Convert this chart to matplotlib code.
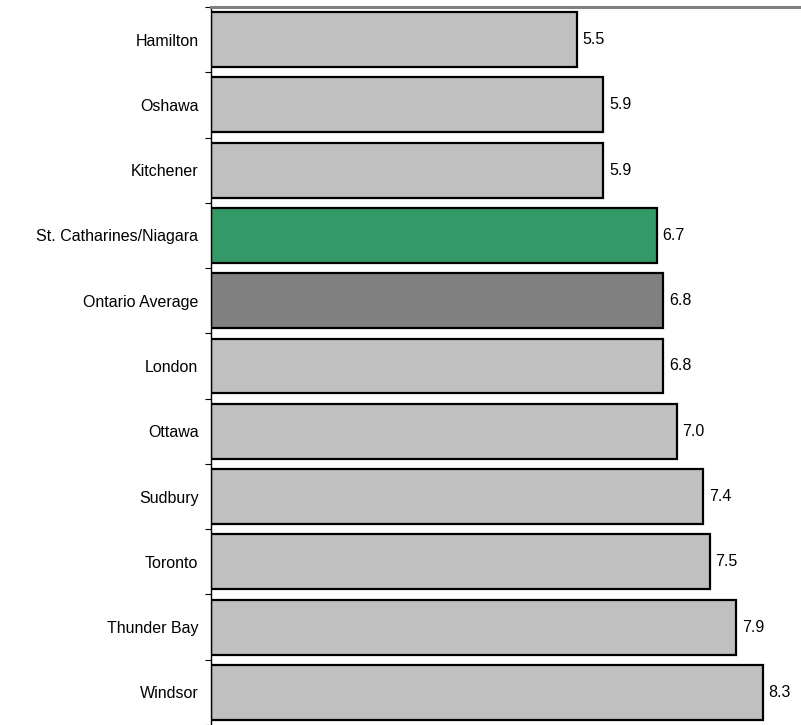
import matplotlib
matplotlib.use("Agg")
import matplotlib.pyplot as plt
import numpy as np

cities = ["Hamilton", "Oshawa", "Kitchener", "St. Catharines/Niagara", "Ontario Average",
          "London", "Ottawa", "Sudbury", "Toronto", "Thunder Bay", "Windsor"]
values = [5.5, 5.9, 5.9, 6.7, 6.8, 6.8, 7.0, 7.4, 7.5, 7.9, 8.3]
colors = ["#C0C0C0", "#C0C0C0", "#C0C0C0", "#339966", "#808080",
          "#C0C0C0", "#C0C0C0", "#C0C0C0", "#C0C0C0", "#C0C0C0", "#C0C0C0"]


def main():
    plt.rcParams['font.family'] = ['Liberation Sans', 'DejaVu Sans']

    fig = plt.figure(figsize=(8.01, 7.25), dpi=100)
    ax = fig.add_axes([211 / 801, 0.0, 1 - 211 / 801, 1 - 7 / 725])

    y = np.arange(len(cities))
    ax.barh(y, values, height=0.84, color=colors, edgecolor="black", linewidth=1.6)

    for yi, v in zip(y, values):
        ax.annotate(f"{v:.1f}", (v, yi), xytext=(4, 0), textcoords="offset points",
                    va="center", ha="left", fontsize=11.5)

    ax.set_xlim(0, 590 / 66.5)
    ax.set_ylim(len(cities) - 0.5, -0.5)

    ax.set_yticks(y)
    ax.set_yticklabels(cities, fontsize=11.5)
    ax.set_yticks(np.arange(len(cities) + 1) - 0.5, minor=True)
    ax.tick_params(axis="y", which="major", length=0, pad=9)
    ax.tick_params(axis="y", which="minor", length=4, width=0.8)
    ax.set_xticks([])

    ax.spines["right"].set_visible(False)
    ax.spines["bottom"].set_visible(False)
    ax.spines["left"].set_linewidth(1.0)
    ax.spines["top"].set_color("#808080")
    ax.spines["top"].set_linewidth(2.2)

    fig.savefig("out.png", dpi=100)
#end of main()


if __name__ == "__main__":
    main()
